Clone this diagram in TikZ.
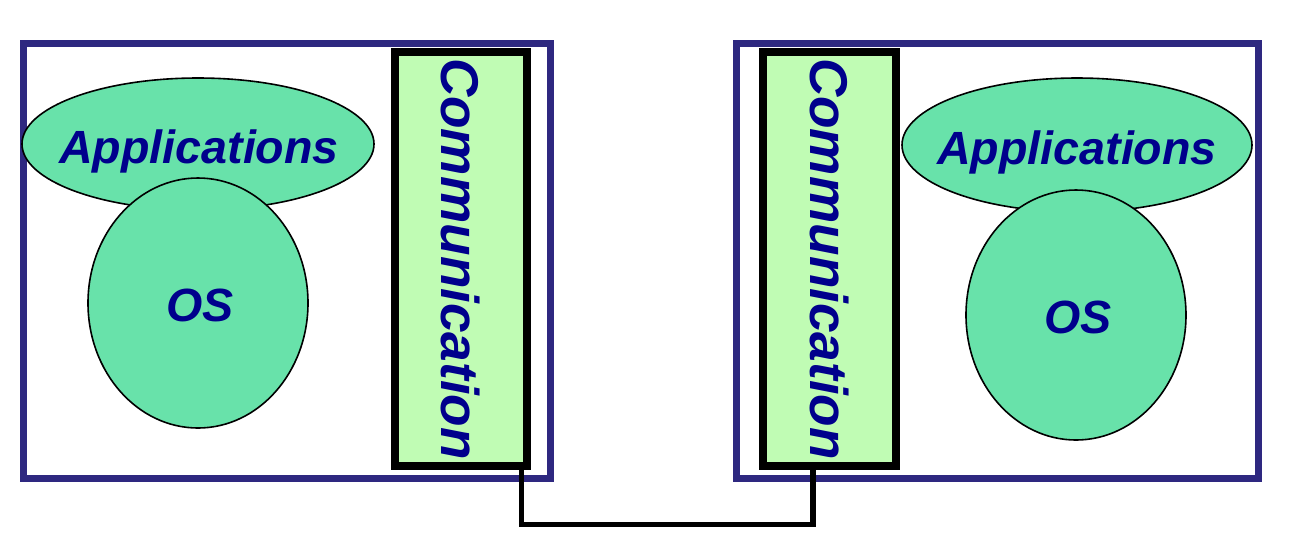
\documentclass[tikz,border=0pt]{standalone}
\usepackage{fontspec}
\setmainfont{Liberation Sans}
\usetikzlibrary{shapes.geometric}
\definecolor{boxblue}{RGB}{46,40,128}
\definecolor{commfill}{RGB}{192,252,180}
\definecolor{ellfill}{RGB}{104,226,170}
\definecolor{txtblue}{RGB}{0,0,140}
\tikzset{
  outerbox/.style={draw=boxblue, line width=3.5pt, fill=white, inner sep=0pt},
  commbox/.style={draw=black, line width=4.3pt, fill=commfill, inner sep=0pt},
  blob/.style={ellipse, draw=black, line width=0.8pt, fill=ellfill, inner sep=0pt},
  lbl/.style={text=txtblue, font=\fontsize{23.3}{27}\selectfont\bfseries\itshape, inner sep=0pt},
  commlbl/.style={text=txtblue, font=\fontsize{26.6}{30}\selectfont\bfseries\itshape, inner sep=0pt, rotate=-90},
  wire/.style={draw=black, line width=2.8pt}
}
\begin{document}
\begin{tikzpicture}[x=0.5pt,y=-0.5pt]
\useasboundingbox[fill=white] (0,0) rectangle (1296,554);
% outer boxes
\node[outerbox, minimum width=263.5pt, minimum height=217.5pt] (boxL) at (286.5,260.5) {};
\node[outerbox, minimum width=261pt, minimum height=217.5pt] (boxR) at (997,260.5) {};
% communication boxes
\node[commbox, minimum width=66pt, minimum height=207pt] (commL) at (461,259) {};
\node[commbox, minimum width=66.5pt, minimum height=207pt] (commR) at (829.5,259) {};
\node[commlbl] (commLt) at (commL.center) {Communication};
\node[commlbl] (commRt) at (commR.center) {Communication};
% connector
\draw[wire] ([xshift=-5pt]commL.south east) -- ++(0,54) -| ([xshift=27pt]commR.south west);
% left machine
\node[blob, minimum width=176pt, minimum height=66pt] (appL) at (198,144) {};
\node[lbl, anchor=base] (appLt) at (199,163) {Applications};
\node[blob, minimum width=110pt, minimum height=125pt] (osL) at (198,303) {};
\node[lbl, anchor=base] (osLt) at (200,321) {OS};
% right machine
\node[blob, minimum width=175pt, minimum height=67pt] (appR) at (1077,145) {};
\node[lbl, anchor=base] (appRt) at (1077,164) {Applications};
\node[blob, minimum width=110pt, minimum height=125pt] (osR) at (1076,315) {};
\node[lbl, anchor=base] (osRt) at (1078,333) {OS};
\end{tikzpicture}
\end{document}
